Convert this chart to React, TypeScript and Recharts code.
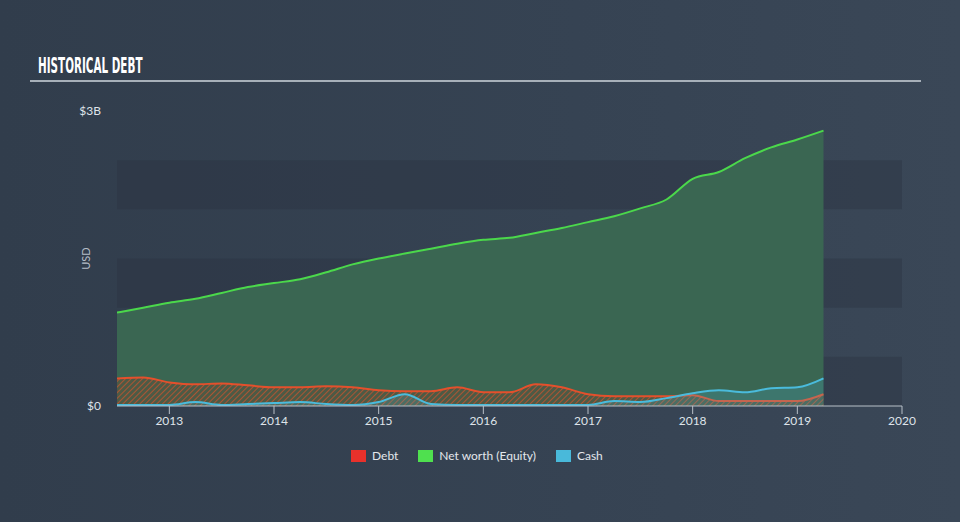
import React from 'react';
import {
  AreaChart, Area, XAxis, YAxis, ReferenceArea,
} from 'recharts';

const years = [
  2012.5, 2012.75, 2013, 2013.25, 2013.5, 2013.75, 2014, 2014.25, 2014.5, 2014.75,
  2015, 2015.25, 2015.5, 2015.75, 2016, 2016.25, 2016.5, 2016.75, 2017, 2017.25,
  2017.5, 2017.75, 2018, 2018.25, 2018.5, 2018.75, 2019, 2019.25,
];
// values in $B
const equity = [
  0.95, 1.0, 1.05, 1.09, 1.15, 1.21, 1.25, 1.29, 1.36, 1.44,
  1.5, 1.55, 1.6, 1.65, 1.69, 1.71, 1.76, 1.81, 1.87, 1.93,
  2.01, 2.1, 2.31, 2.38, 2.52, 2.63, 2.71, 2.8,
];
const debt = [
  0.28, 0.29, 0.24, 0.22, 0.23, 0.21, 0.19, 0.19, 0.2, 0.19,
  0.16, 0.15, 0.15, 0.19, 0.14, 0.14, 0.22, 0.19, 0.12, 0.1,
  0.1, 0.1, 0.11, 0.05, 0.05, 0.05, 0.05, 0.12,
];
const cash = [
  0.01, 0.01, 0.01, 0.04, 0.01, 0.02, 0.03, 0.04, 0.02, 0.01,
  0.04, 0.12, 0.02, 0.01, 0.01, 0.01, 0.01, 0.01, 0.01, 0.05,
  0.04, 0.08, 0.13, 0.16, 0.14, 0.18, 0.19, 0.28,
];
const xTicks = [2013, 2014, 2015, 2016, 2017, 2018, 2019, 2020];
const yTicks = [0, 3];
const bands = [[0, 0.5], [1, 1.5], [2, 2.5]];

const data = years.map((t, i) => ({ t, equity: equity[i], debt: debt[i], cash: cash[i] }));

const legend = [
  { label: 'Debt', color: '#e8312b' },
  { label: 'Net worth (Equity)', color: '#4fe04f' },
  { label: 'Cash', color: '#49b9da' },
];

const font = 'Lato, "Open Sans", sans-serif';

export default function App() {
  return (
    <div style={{
      position: 'absolute', left: 0, top: 0, width: 960, height: 522, overflow: 'hidden',
      background: 'linear-gradient(90deg, #313d4c 0%, #364353 60%, #3a4757 100%)',
      fontFamily: font,
    }}>
      <div style={{
        position: 'absolute', left: 38, top: 54, color: '#ffffff', fontSize: 21, fontWeight: 'bold',
        fontFamily: '"DejaVu Sans Condensed", "Liberation Sans Narrow", sans-serif',
        transform: 'scaleX(0.55)', transformOrigin: 'left', whiteSpace: 'nowrap',
      }}>
        HISTORICAL DEBT
      </div>
      <div style={{ position: 'absolute', left: 30, top: 80, width: 891, height: 2, background: '#a7b0b9' }} />
      <div style={{
        position: 'absolute', left: 74, top: 252, color: '#b4bcc6', fontSize: 11,
        transform: 'rotate(-90deg)', transformOrigin: 'center',
      }}>
        USD
      </div>
      <div style={{ position: 'absolute', left: 0, top: 0 }}>
        <AreaChart width={960} height={522} data={data} margin={{ top: 111, right: 58, bottom: 86, left: 0 }}>
          <defs>
            <pattern id="hatch" width="4" height="4" patternUnits="userSpaceOnUse" patternTransform="rotate(45)">
              <rect width="4" height="4" fill="#4d5a45" />
              <line x1="0" y1="0" x2="0" y2="4" stroke="#c5532f" strokeWidth="1.6" />
            </pattern>
          </defs>
          {bands.map(([a, b]) => (
            <ReferenceArea key={a} y1={a} y2={b} x1={2012.5} x2={2020} fill="#2a3341" fillOpacity={0.4} stroke="none" />
          ))}
          <XAxis
            dataKey="t"
            type="number"
            domain={[2012.5, 2020]}
            ticks={xTicks}
            allowDataOverflow
            stroke="#b8c0c8"
            tick={{ fill: '#dfe4ea', fontSize: 12, fontFamily: font }}
            tickSize={8}
            tickMargin={2}
          />
          <YAxis
            type="number"
            domain={[0, 3]}
            ticks={yTicks}
            width={117}
            axisLine={false}
            tickLine={false}
            tickMargin={10}
            tickFormatter={(v: number) => (v === 0 ? '$0' : `$${v}B`)}
            tick={{ fill: '#dfe4ea', fontSize: 12, fontFamily: font }}
          />
          <Area
            type="monotone"
            dataKey="equity"
            stroke="#4bd84b"
            strokeWidth={2}
            fill="#3a6652"
            fillOpacity={1}
            isAnimationActive={false}
          />
          <Area
            type="monotone"
            dataKey="debt"
            stroke="#e4502c"
            strokeWidth={2}
            fill="url(#hatch)"
            fillOpacity={1}
            isAnimationActive={false}
          />
          <Area
            type="monotone"
            dataKey="cash"
            stroke="#4abbdc"
            strokeWidth={2}
            fill="#4abbdc"
            fillOpacity={0.2}
            isAnimationActive={false}
          />
        </AreaChart>
      </div>
      <div style={{ position: 'absolute', top: 448, left: 351, display: 'flex', alignItems: 'center', fontSize: 12, color: '#e3e7ec' }}>
        {legend.map((l) => (
          <div key={l.label} style={{ display: 'flex', alignItems: 'center', marginRight: 20 }}>
            <div style={{ width: 15, height: 12, background: l.color, marginRight: 6 }} />
            <span>{l.label}</span>
          </div>
        ))}
      </div>
    </div>
  );
}
